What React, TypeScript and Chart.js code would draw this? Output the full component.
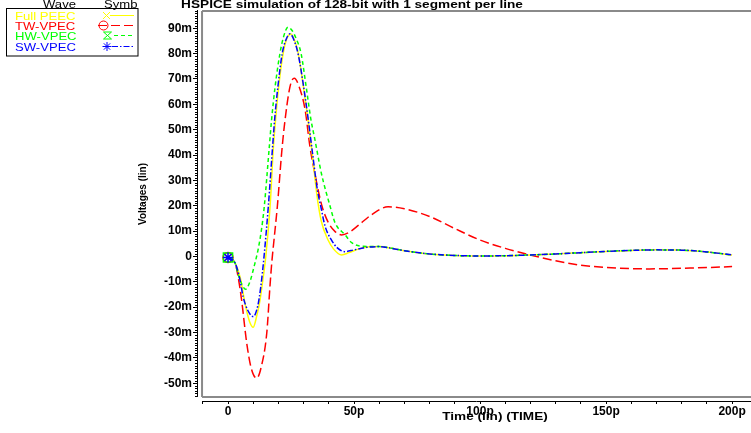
import React, { useEffect, useRef } from 'react';
import { Chart, registerables } from 'chart.js';

Chart.register(...registerables);

// ---- text ----
const chartTitle = 'HSPICE simulation of 128-bit with 1 segment per line';
const xAxisTitle = 'Time (lin) (TIME)';
const yAxisTitle = 'Voltages (lin)';
const legendHeader = ['Wave', 'Symb'];
const seriesNames = ['Full PEEC', 'TW-VPEC', 'HW-VPEC', 'SW-VPEC'];
const seriesColors = ['#ffff00', '#ff0000', '#00ff00', '#0000ff'];

// ---- ticks (x in ps, y in mV) ----
const xTickValues = [-10, 0, 10, 20, 30, 40, 50, 60, 70, 80, 90, 100, 110, 120, 130, 140, 150, 160, 170, 180, 190, 200];
const xLabelEvery = 50;
const yTickValues = [-50, -40, -30, -20, -10, 0, 10, 20, 30, 40, 50, 60, 70, 80, 90];
const yMinorRange = [-55, 97];
const xRange = [-12.3, 207.5];
const yRange = [-57.0, 97.2];
const frameEdge = [-10.3, -55.4]; // plot frame: left time, bottom voltage

// ---- series data ----
const tailTimePs = [65, 70, 80, 90, 100, 110, 120, 130, 140, 150, 160, 170, 180, 190, 200];
const tailMv = [3.2, 2.3, 1.0, 0.4, 0.2, 0.3, 0.6, 1.0, 1.5, 2.0, 2.4, 2.6, 2.5, 1.8, 0.6];

const fullPeecTimePs = [0, 2.8, 5, 6.7, 8.5, 10, 11.5, 12.7, 14, 15, 16.7, 18, 18.7, 20, 21.7, 23, 24.9, 26.5, 27.9, 29.9, 31.6, 33.5, 35.3, 37, 39.7, 42, 45.1, 48, 52, 56, 60.3];
const fullPeecMv = [-0.4, -2.6, -9, -18.3, -25.5, -27.9, -23, -17.2, -8, 0, 19.8, 43, 52, 66, 79, 85, 87.7, 85, 80, 67, 55, 40, 24, 14, 6.5, 2.8, 0.6, 1.5, 3, 3.8, 3.9];

const twVpecTimePs = [0, 2.8, 4, 5.4, 7.4, 9.2, 11.4, 13.2, 15.4, 16.7, 17.4, 18.2, 19.6, 21.3, 22.3, 24.6, 26.3, 28.2, 30.6, 32.5, 35, 37.3, 40, 42.5, 45.1, 48, 52, 57, 63.5, 70, 80.2, 90, 100, 110, 119.8, 130, 139.7, 150, 166.3, 186, 200];
const twVpecMv = [-0.4, -2.6, -8, -17.2, -34, -44, -48, -43.5, -30, -11, -2, 6, 20, 41, 51, 67, 70.3, 67, 57.8, 43.4, 30, 19.8, 13, 9.8, 8.5, 9.5, 12.5, 16.5, 19.6, 18.8, 15.7, 11, 6.5, 3.2, 0.6, -1.7, -3.4, -4.3, -4.9, -4.5, -4];

const hwVpecTimePs = [0, 2.8, 4.1, 5.5, 7, 8.5, 10.7, 12, 13.2, 14.4, 16.4, 17.3, 18.7, 20.6, 22, 23.8, 25.5, 27, 29, 31, 32.9, 34.5, 37, 40.5, 42.5, 46.4, 49, 53.6, 60];
const hwVpecMv = [-0.4, -2.6, -7.3, -11, -12.9, -10.5, -2.6, 3, 10, 19.8, 43.4, 54, 67, 80, 86.5, 90.4, 89, 86, 80, 67, 54, 46, 33, 19.8, 13.2, 8.6, 5.5, 4, 3.9];

const swVpecTimePs = [0, 2.8, 4.5, 6, 8, 10, 11.8, 13, 14.3, 16, 17.7, 18.5, 19.8, 21.5, 23, 24.6, 26.5, 28, 30, 31.7, 33.5, 35.5, 36.8, 38.5, 40.9, 43.5, 46.4, 50, 55, 60];
const swVpecMv = [-0.4, -2.6, -8, -15.9, -21.5, -23.7, -19.5, -12, 0, 19.8, 43.4, 54, 67, 80, 85.5, 87.8, 84.5, 79, 67, 55, 41, 26, 19.8, 12, 6.7, 3.3, 1.9, 2.6, 3.6, 3.9];

const toPoints = (ts: number[], vs: number[]) => ts.map((t, i) => ({ x: t, y: vs[i] }));

const seriesTimes = [
  fullPeecTimePs.concat(tailTimePs),
  twVpecTimePs,
  hwVpecTimePs.concat(tailTimePs),
  swVpecTimePs.concat(tailTimePs),
];
const seriesValues = [
  fullPeecMv.concat(tailMv),
  twVpecMv,
  hwVpecMv.concat(tailMv),
  swVpecMv.concat(tailMv),
];
const seriesDash = [[], [9, 4], [4, 3], [6, 2, 1.5, 2]];
const seriesPointStyle = ['crossRot', 'circle', 'rect', 'star'];
const seriesPointRadius = [4, 5, 6.5, 5];
const seriesOrder = [2, 3, 1, 0];

const FONT = '"Liberation Sans", Arial, sans-serif';

function fillStretched(ctx: CanvasRenderingContext2D, text: string, x: number, y: number, sx: number, align: CanvasTextAlign) {
  ctx.save();
  ctx.translate(x, y);
  ctx.scale(sx, 1);
  ctx.textAlign = align;
  ctx.textBaseline = 'alphabetic';
  ctx.fillText(text, 0, 0);
  ctx.restore();
}

function drawSymbol(ctx: CanvasRenderingContext2D, kind: string, cx: number, cy: number) {
  ctx.beginPath();
  if (kind === 'crossRot') {
    ctx.moveTo(cx - 3.5, cy - 3.5); ctx.lineTo(cx + 3.5, cy + 3.5);
    ctx.moveTo(cx + 3.5, cy - 3.5); ctx.lineTo(cx - 3.5, cy + 3.5);
  } else if (kind === 'circle') {
    ctx.arc(cx, cy, 4.5, 0, Math.PI * 2);
  } else if (kind === 'rect') {
    ctx.moveTo(cx - 4, cy - 3.5); ctx.lineTo(cx + 4, cy - 3.5);
    ctx.lineTo(cx - 4, cy + 3.5); ctx.lineTo(cx + 4, cy + 3.5); ctx.closePath();
  } else {
    for (let k = 0; k < 4; k++) {
      const a = (k * Math.PI) / 4;
      ctx.moveTo(cx - 4.5 * Math.cos(a), cy - 4.5 * Math.sin(a));
      ctx.lineTo(cx + 4.5 * Math.cos(a), cy + 4.5 * Math.sin(a));
    }
  }
  ctx.stroke();
}

const decorPlugin = {
  id: 'hspiceDecor',
  beforeDatasetsDraw(chart: any) {
    const { ctx, chartArea, scales, width } = chart;
    const fl = scales.x.getPixelForValue(frameEdge[0]);
    const fb = scales.y.getPixelForValue(frameEdge[1]);
    ctx.save();
    // gray plot frame (left, top, bottom)
    ctx.strokeStyle = '#8a8a8a';
    ctx.lineWidth = 2;
    ctx.beginPath();
    ctx.moveTo(fl, chartArea.top + 1);
    ctx.lineTo(width, chartArea.top + 1);
    ctx.moveTo(fl, chartArea.top + 1);
    ctx.lineTo(fl, fb);
    ctx.moveTo(fl, fb);
    ctx.lineTo(width, fb);
    ctx.stroke();
    // axis lines
    ctx.strokeStyle = '#000';
    ctx.lineWidth = 1;
    ctx.beginPath();
    ctx.moveTo(chartArea.left + 0.5, chartArea.top);
    ctx.lineTo(chartArea.left + 0.5, fb);
    ctx.moveTo(fl, chartArea.bottom + 0.5);
    ctx.lineTo(width, chartArea.bottom + 0.5);
    ctx.stroke();
    ctx.restore();
  },
  afterDraw(chart: any) {
    const { ctx, chartArea, scales } = chart;
    ctx.save();
    // minor y ticks
    ctx.strokeStyle = '#000';
    ctx.lineWidth = 1;
    ctx.beginPath();
    for (let v = yMinorRange[0]; v <= yMinorRange[1]; v++) {
      if (v % 10 === 0) continue;
      const py = Math.round(scales.y.getPixelForValue(v)) + 0.5;
      ctx.moveTo(chartArea.left - 2, py);
      ctx.lineTo(chartArea.left, py);
    }
    ctx.stroke();

    // titles
    ctx.fillStyle = '#000';
    ctx.font = `bold 11px ${FONT}`;
    fillStretched(ctx, chartTitle, 352, 8, 1.24, 'center');
    ctx.font = `bold 10px ${FONT}`;
    fillStretched(ctx, xAxisTitle, 495, 419.5, 1.36, 'center');
    ctx.save();
    ctx.translate(146, 194);
    ctx.rotate(-Math.PI / 2);
    ctx.textAlign = 'center';
    ctx.textBaseline = 'alphabetic';
    ctx.fillText(yAxisTitle, 0, 0);
    ctx.restore();

    // legend table
    ctx.font = `11px ${FONT}`;
    ctx.fillStyle = '#000';
    fillStretched(ctx, legendHeader[0], 43, 7.5, 1.19, 'left');
    ctx.save();
    ctx.beginPath();
    ctx.rect(0, 0, 138, 60);
    ctx.clip();
    fillStretched(ctx, legendHeader[1], 104, 7.5, 1.19, 'left');
    ctx.restore();
    ctx.strokeStyle = '#000';
    ctx.lineWidth = 1;
    ctx.strokeRect(6.5, 8.5, 131.5, 47.5);
    const baselines = [19.5, 29.5, 39.5, 50.5];
    const symX = [106.5, 103.5, 107.5, 107];
    const lineStart = [110, 98, 114, 112];
    chart.data.datasets.forEach((ds: any, i: number) => {
      const by = baselines[i];
      const cy = by - 4;
      ctx.fillStyle = ds.borderColor;
      fillStretched(ctx, ds.label, 15, by, 1.19, 'left');
      ctx.strokeStyle = ds.borderColor;
      ctx.lineWidth = 1;
      ctx.setLineDash(seriesDash[i]);
      ctx.beginPath();
      ctx.moveTo(lineStart[i], cy);
      ctx.lineTo(134, cy);
      ctx.stroke();
      ctx.setLineDash([]);
      drawSymbol(ctx, seriesPointStyle[i], symX[i], cy);
    });
    ctx.restore();
  },
};

export default function App() {
  const canvasRef = useRef<HTMLCanvasElement | null>(null);

  useEffect(() => {
    if (!canvasRef.current) return;
    const datasets = seriesNames.map((name, i) => ({
      label: name,
      data: toPoints(seriesTimes[i], seriesValues[i]),
      borderColor: seriesColors[i],
      backgroundColor: 'transparent',
      borderWidth: 1.5,
      borderDash: seriesDash[i],
      cubicInterpolationMode: 'monotone' as const,
      pointStyle: seriesPointStyle[i],
      pointRadius: (c: any) => (c.dataIndex === 0 ? seriesPointRadius[i] : 0),
      pointHoverRadius: 0,
      pointBorderColor: seriesColors[i],
      pointBackgroundColor: 'transparent',
      pointBorderWidth: 1.5,
      order: seriesOrder[i],
      fill: false,
    }));

    const chart = new Chart(canvasRef.current, {
      type: 'line',
      data: { datasets },
      options: {
        animation: false,
        responsive: false,
        layout: { autoPadding: false, padding: { top: 10, left: 0, right: 0, bottom: 0 } },
        plugins: {
          legend: { display: false },
          title: { display: false },
          tooltip: { enabled: false },
        },
        scales: {
          x: {
            type: 'linear',
            position: 'bottom',
            min: xRange[0],
            max: xRange[1],
            afterFit: (s: any) => { s.height = 32; s.paddingLeft = 0; s.paddingRight = 0; },
            afterBuildTicks: (s: any) => { s.ticks = xTickValues.map((v) => ({ value: v })); },
            grid: { display: true, drawOnChartArea: false, drawTicks: true, tickLength: 3, tickColor: '#000', tickWidth: 1 },
            border: { display: false },
            ticks: {
              autoSkip: false,
              maxRotation: 0,
              padding: 0,
              color: '#000',
              font: { family: FONT, weight: 'bold', size: 12 },
              callback: (v: any) => (v % xLabelEvery === 0 ? (v === 0 ? '0' : `${v}p`) : ''),
            },
          },
          y: {
            type: 'linear',
            position: 'left',
            min: yRange[0],
            max: yRange[1],
            afterFit: (s: any) => { s.width = 197; s.paddingTop = 0; s.paddingBottom = 0; },
            afterBuildTicks: (s: any) => { s.ticks = yTickValues.map((v) => ({ value: v })); },
            grid: { display: true, drawOnChartArea: false, drawTicks: true, tickLength: 4, tickColor: '#000', tickWidth: 1 },
            border: { display: false },
            ticks: {
              autoSkip: false,
              padding: 1,
              color: '#000',
              font: { family: FONT, weight: 'bold', size: 12 },
              callback: (v: any) => (v === 0 ? '0' : `${v}m`),
            },
          },
        },
      },
      plugins: [decorPlugin],
    });
    return () => chart.destroy();
  }, []);

  return (
    <div style={{ position: 'fixed', left: 0, top: 0, width: 751, height: 433, background: '#fff' }}>
      <canvas ref={canvasRef} width={751} height={433} style={{ display: 'block', width: 751, height: 433 }} />
    </div>
  );
}
